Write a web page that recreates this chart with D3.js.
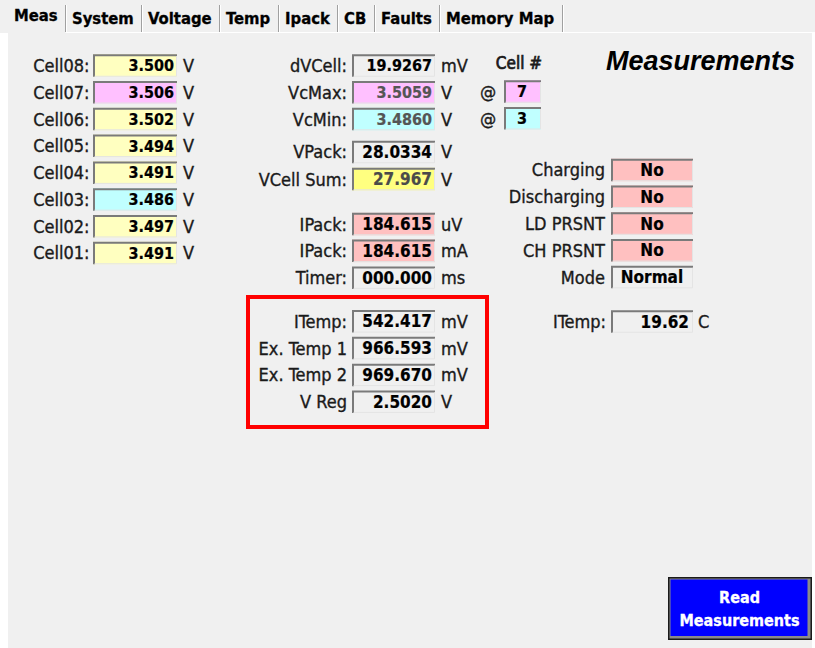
<!DOCTYPE html>
<html><head><meta charset="utf-8">
<script src="https://cdn.jsdelivr.net/npm/d3@7"></script>
<style>
html,body{margin:0;padding:0;background:#fff;overflow:hidden}
svg{display:block}
</style></head>
<body>
<script>
// ---------------- data ----------------
const tabNames = ["Meas","System","Voltage","Temp","Ipack","CB","Faults","Memory Map"];
const cellNames = ["Cell08","Cell07","Cell06","Cell05","Cell04","Cell03","Cell02","Cell01"];
const cellVolts = [3.500,3.506,3.502,3.494,3.491,3.486,3.497,3.491];
const spreadLabels = ["dVCell:","VcMax:","VcMin:"];
const spreadValues = [19.9267,3.5059,3.4860];
const spreadUnits = ["mV","V","V"];
const cellNumbers = [7,3];
const packLabels = ["VPack:","VCell Sum:"];
const packValues = [28.0334,27.967];
const packUnits = ["V","V"];
const currentLabels = ["IPack:","IPack:","Timer:"];
const currentValues = [184.615,184.615,0.000];
const currentUnits = ["uV","mA","ms"];
const statusLabels = ["Charging","Discharging","LD PRSNT","CH PRSNT","Mode"];
const statusValues = ["No","No","No","No","Normal"];
const tempLabels = ["ITemp:","Ex. Temp 1","Ex. Temp 2","V Reg"];
const tempValues = [542.417,966.593,969.670,2.5020];
const tempUnits = ["mV","mV","mV","V"];
const internalTempLabel = "ITemp:";
const internalTemp = 19.62;
const internalTempUnit = "C";
const titleText = "Measurements";
const buttonLines = ["Read","Measurements"];

// ---------------- layout / style ----------------
const W = 815, H = 648;
const FONT = "'DejaVu Sans Condensed','DejaVu Sans',sans-serif";
const BG = "#f0f0f0";
const C_YELLOW = "#ffffc0", C_PINK = "#ffc0ff", C_CYAN = "#c0ffff", C_SALMON = "#ffc0c0", C_YEL2 = "#ffff80";
const rowY = d3.scaleLinear().domain([0,7]).range([65.5,253]);
const BOX_H = 22.5;

const svg = d3.select("body").append("svg").attr("width",W).attr("height",H)
  .style("font-family",FONT).style("font-stretch","condensed");

// background
svg.append("rect").attr("width",W).attr("height",H).attr("fill",BG);
svg.append("rect").attr("x",0).attr("y",33).attr("width",8).attr("height",H-33).attr("fill","#fff");
svg.append("rect").attr("x",812).attr("y",33).attr("width",3).attr("height",H-33).attr("fill","#fff");

// ---------------- tabs ----------------
const tabG = svg.append("g");
let tx = 14;
const sepXs = [];
tabNames.forEach((t,i)=>{
  const sel = i===0;
  const txt = tabG.append("text").attr("x",tx).attr("y", sel?21:23.5)
    .attr("font-size",16.5).attr("font-weight","bold").attr("fill","#000")
    .attr("stroke","#000").attr("stroke-width",0.3).text(t);
  const w = txt.node().getComputedTextLength();
  const sx = Math.round(tx + w + 7.5) + 0.5;
  sepXs.push(sx);
  tx = sx + 6.5;
});
sepXs.forEach(sx=>{
  tabG.append("line").attr("x1",sx).attr("x2",sx).attr("y1",5).attr("y2",32).attr("stroke","#a0a0a0");
  tabG.append("line").attr("x1",sx+1).attr("x2",sx+1).attr("y1",5).attr("y2",32).attr("stroke","#ffffff");
});
tabG.append("line").attr("x1",sepXs[0]).attr("x2",W).attr("y1",32.5).attr("y2",32.5).attr("stroke","#ffffff");

// ---------------- helpers ----------------
function sunkenBox(g, x, yc, w, fill){
  const y = yc - BOX_H/2, h = BOX_H;
  g.append("rect").attr("x",x).attr("y",y).attr("width",w).attr("height",h).attr("fill",fill);
  g.append("path").attr("d",`M${x+1},${y+h}V${y+1}H${x+w}`).attr("fill","none")
    .attr("stroke","#7a7a7a").attr("stroke-width",2);
  g.append("path").attr("d",`M${x+1.5},${y+h-0.5}H${x+w-0.5}V${y+2}`).attr("fill","none")
    .attr("stroke","#e4e4e4").attr("stroke-width",1);
}
function label(g, x, yc, t, anchor, size, weight, color, sw){
  const c = color||"#1a1a1a";
  return g.append("text").attr("x",x).attr("y",yc + (size||18)*0.36)
    .attr("text-anchor",anchor||"end").attr("font-size",size||18)
    .attr("font-weight",weight||"normal").attr("fill",c)
    .attr("stroke",c).attr("stroke-width", sw==null?0.35:sw).text(t);
}

// ---------------- cells ----------------
const cellG = svg.append("g");
const iMax = d3.maxIndex(cellVolts), iMin = d3.minIndex(cellVolts);
const f3 = d3.format(".3f");
cellNames.forEach((n,i)=>{
  const yc = rowY(i);
  label(cellG, 89.5, yc, n+":", "end", 18);
  sunkenBox(cellG, 93, yc, 84, i===iMax?C_PINK:(i===iMin?C_CYAN:C_YELLOW));
  label(cellG, 174, yc, f3(cellVolts[i]), "end", 16, "bold", "#000", 0.2);
  label(cellG, 183, yc, "V", "start", 18);
});

// ---------------- spread ----------------
const midG = svg.append("g");
const spreadFmt = [d3.format(".4f"), d3.format(".4f"), d3.format(".4f")];
const spreadFill = [BG, C_PINK, C_CYAN];
const spreadColor = ["#000","#555","#555"];
spreadLabels.forEach((l,i)=>{
  const yc = rowY(i);
  label(midG, 347, yc, l, "end", 18);
  sunkenBox(midG, 352, yc, 83, spreadFill[i]);
  label(midG, 432, yc, spreadFmt[i](spreadValues[i]), "end", 16, "bold", spreadColor[i], 0.2);
  label(midG, 441, yc, spreadUnits[i], "start", 18);
});
// Cell #
label(midG, 519, rowY(-0.11), "Cell #", "middle", 17, "normal", "#1a1a1a", 0.7);
cellNumbers.forEach((c,i)=>{
  const yc = rowY(0.97 + i);
  label(midG, 480, yc, "@", "start", 18);
  sunkenBox(midG, 504, yc, 37, i===0?C_PINK:C_CYAN);
  label(midG, 522, yc, String(c), "middle", 16, "bold", "#000", 0.2);
});

// pack
const packRows = [3.23, 4.24];
const packFmt = [d3.format(".4f"), d3.format(".3f")];
packLabels.forEach((l,i)=>{
  const yc = rowY(packRows[i]);
  label(midG, 347, yc, l, "end", 18);
  sunkenBox(midG, 352, yc, 83, i===0?BG:C_YEL2);
  label(midG, 432, yc, packFmt[i](packValues[i]), "end", 17, "bold", i===0?"#000":"#4a4a4a", 0.2);
  label(midG, 441, yc, packUnits[i], "start", 18);
});

// current
const curFmt = [d3.format(".3f"), d3.format(".3f"), d3.format("07.3f")];
currentLabels.forEach((l,i)=>{
  const yc = rowY(5.92 + i);
  label(midG, 347, yc, l, "end", 18);
  sunkenBox(midG, 352, yc, 83, i<2?C_SALMON:BG);
  label(midG, 432, yc, curFmt[i](currentValues[i]), "end", 17, "bold", "#000", 0.2);
  label(midG, 441, yc, currentUnits[i], "start", 18);
});

// ---------------- status ----------------
const stG = svg.append("g");
statusLabels.forEach((l,i)=>{
  const yc = rowY(3.9 + i);
  label(stG, 605, yc, l, "end", 18);
  sunkenBox(stG, 611, yc, 82, statusValues[i]==="No"?C_SALMON:BG);
  label(stG, 652, yc, statusValues[i], "middle", 17, "bold", "#000", 0.2);
});
{
  const yc = rowY(9.56);
  label(stG, 606, yc, internalTempLabel, "end", 18);
  sunkenBox(stG, 611, yc, 82, BG);
  label(stG, 689, yc, d3.format(".2f")(internalTemp), "end", 17, "bold", "#000", 0.2);
  label(stG, 698, yc, internalTempUnit, "start", 18);
}

// ---------------- temps ----------------
const tG = svg.append("g");
const tempFmt = [d3.format(".3f"), d3.format(".3f"), d3.format(".3f"), d3.format(".4f")];
tempLabels.forEach((l,i)=>{
  const yc = rowY(9.55 + i);
  label(tG, 347, yc, l, "end", 18);
  sunkenBox(tG, 352, yc, 83, BG);
  label(tG, 432, yc, tempFmt[i](tempValues[i]), "end", 17, "bold", "#000", 0.2);
  label(tG, 441, yc, tempUnits[i], "start", 18);
});
tG.append("rect").attr("x",248).attr("y",297).attr("width",239).attr("height",130)
  .attr("fill","none").attr("stroke","#ff0000").attr("stroke-width",4);

// ---------------- title ----------------
svg.append("text").attr("x",606).attr("y",70).attr("font-family","'Liberation Sans',Arial,sans-serif")
  .style("font-stretch","normal")
  .attr("font-size",27).attr("font-weight","bold").attr("font-style","italic").attr("fill","#000").text(titleText);

// ---------------- button ----------------
const bG = svg.append("g");
bG.append("rect").attr("x",668).attr("y",577).attr("width",144).attr("height",63).attr("fill","#1a1a1a");
bG.append("rect").attr("x",669.5).attr("y",578.5).attr("width",141).attr("height",60).attr("fill","#8a8a8a");
bG.append("rect").attr("x",670.5).attr("y",579.5).attr("width",137).attr("height",56.5).attr("fill","#0000ff");
buttonLines.forEach((t,i)=>{
  bG.append("text").attr("x",739.5).attr("y",602.7 + i*23).attr("text-anchor","middle")
    .attr("font-size",16).attr("font-weight","bold").attr("fill","#fff")
    .attr("stroke","#fff").attr("stroke-width",0.3).text(t);
});
</script>
</body></html>
